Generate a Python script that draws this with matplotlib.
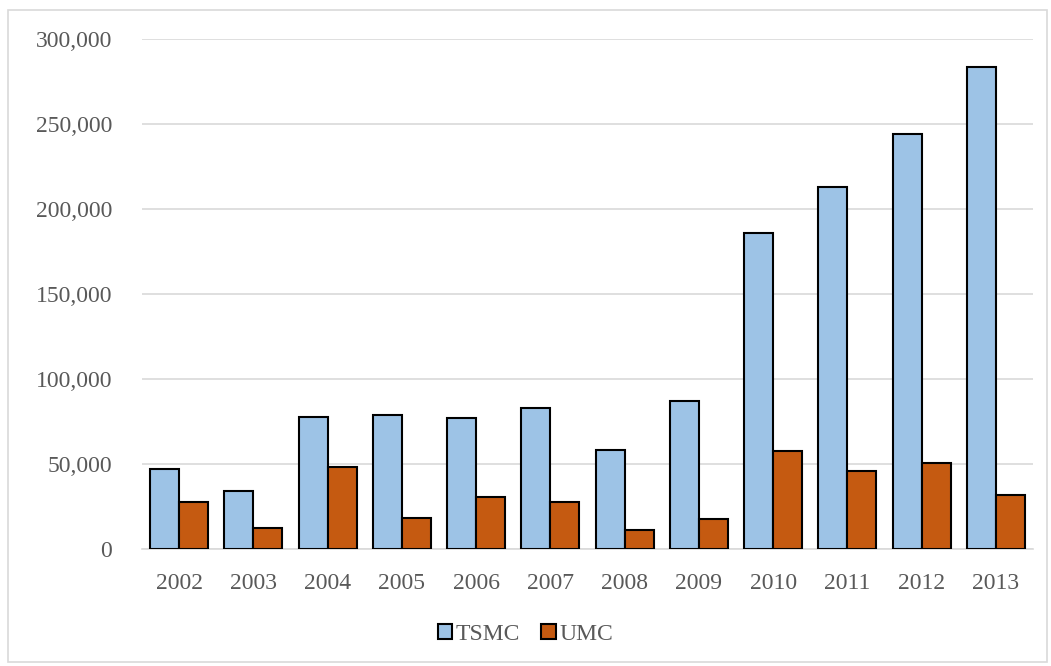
import numpy as np
import matplotlib.pyplot as plt
from matplotlib.patches import Rectangle
from matplotlib.ticker import FuncFormatter

years = ['2002', '2003', '2004', '2005', '2006', '2007',
         '2008', '2009', '2010', '2011', '2012', '2013']
tsmc = [47000, 34000, 77600, 78800, 77100, 82900,
        58200, 87100, 185900, 212900, 244100, 283500]
umc = [27600, 12400, 48200, 18200, 30600, 27600,
       11200, 17600, 57600, 45900, 50600, 31800]

plt.rcParams['font.family'] = ['Liberation Serif', 'DejaVu Serif']
txt = '#595959'

fig = plt.figure(figsize=(10.51, 6.66), dpi=100)
ax = fig.add_axes([142/1051, 1-549/666, (1033-142)/1051, 510/666])

# outer chart border
fig.patches.append(Rectangle((8/1051, 4/666), 1039/1051, 652/666,
                             transform=fig.transFigure, fill=False,
                             edgecolor='#d9d9d9', lw=1.2))

x = np.arange(len(years))
w = 0.39
ax.bar(x - w/2, tsmc, w, color='#9dc3e6', edgecolor='black', lw=1.5,
       label='TSMC', zorder=3)
ax.bar(x + w/2, umc, w, color='#c55a11', edgecolor='black', lw=1.5,
       label='UMC', zorder=3)

ax.set_xlim(-0.5, len(years) - 0.5)
ax.set_ylim(0, 300000)
ax.set_yticks(np.arange(0, 300001, 50000))
ax.yaxis.set_major_formatter(FuncFormatter(lambda v, p: f'{int(v):,}'))
ax.set_xticks(x)
ax.set_xticklabels(years)
ax.grid(axis='y', color='#d9d9d9', lw=1.2, zorder=0)
for s in ['top', 'right', 'left']:
    ax.spines[s].set_visible(False)
ax.spines['bottom'].set_color('#d9d9d9')
ax.spines['bottom'].set_linewidth(1.2)
ax.tick_params(axis='both', length=0, labelsize=17, colors=txt)
ax.tick_params(axis='y', pad=21.5)
ax.tick_params(axis='x', pad=17)

leg = fig.legend(loc='center', bbox_to_anchor=(0.5, 1-634/666), ncol=2,
                 frameon=False, fontsize=17, handlelength=0.6,
                 handleheight=0.6, handletextpad=0.15, columnspacing=0.9)
for t in leg.get_texts():
    t.set_color(txt)

fig.savefig('out.png', dpi=100)
